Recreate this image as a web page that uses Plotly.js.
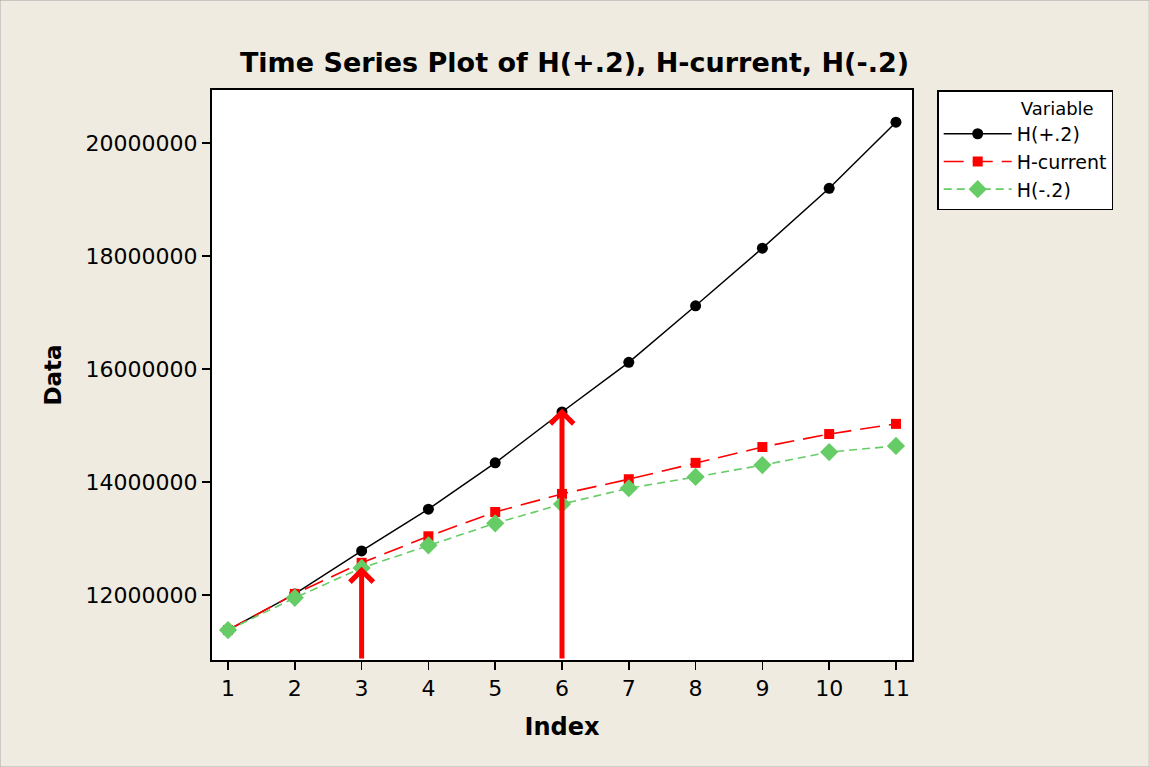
<!DOCTYPE html>
<html>
<head>
<meta charset="utf-8">
<script src="https://cdn.plot.ly/plotly-3.0.1.min.js"></script>
<style>html,body{margin:0;padding:0;background:#EFEBE1;}</style>
</head>
<body>
<div id="chart" style="width:1149px;height:767px;"></div>
<script>
const indexVals = [1, 2, 3, 4, 5, 6, 7, 8, 9, 10, 11];
const hPlus = [11380000, 12020000, 12780000, 13520000, 14340000, 15240000, 16120000, 17120000, 18140000, 19200000, 20370000];
const hCurrent = [11380000, 12020000, 12570000, 13040000, 13470000, 13790000, 14050000, 14340000, 14620000, 14850000, 15030000];
const hMinus = [11380000, 11950000, 12480000, 12880000, 13270000, 13610000, 13890000, 14090000, 14300000, 14530000, 14640000];
const yTicks = [12000000, 14000000, 16000000, 18000000, 20000000];
const arrowIndex = [3, 6];
const arrowTop = [12500000, 15300000];

const yRange = [10850000, 20940000];
const font = 'DejaVu Sans, Verdana, sans-serif';

const traces = [
  {x: indexVals, y: hPlus, name: 'H(+.2)', mode: 'lines+markers',
   line: {color: '#000000', width: 1.5},
   marker: {symbol: 'circle', size: 11, color: '#000000'}},
  {x: indexVals, y: hCurrent, name: 'H-current', mode: 'lines+markers',
   line: {color: '#FF0000', width: 1.6, dash: '20px,9px'},
   marker: {symbol: 'square', size: 10, color: '#FF0000'}},
  {x: indexVals, y: hMinus, name: 'H(-.2)', mode: 'lines+markers',
   line: {color: '#66CC66', width: 1.6, dash: '8px,5px'},
   marker: {symbol: 'diamond', size: 14, color: '#66CC66'}}
];

const annotations = arrowIndex.map((xi, i) => ({
  x: xi, y: arrowTop[i], xref: 'x', yref: 'y',
  ax: xi, ay: yRange[0], axref: 'x', ayref: 'y',
  showarrow: true, arrowhead: 4, arrowsize: 0.9, arrowwidth: 5,
  arrowcolor: '#FF0000', text: ''
}));

const layout = {
  width: 1149, height: 767,
  paper_bgcolor: '#EFEBE1', plot_bgcolor: '#FFFFFF',
  margin: {l: 212, r: 237, t: 90, b: 107},
  font: {family: font, color: '#000000', size: 22},
  title: {text: '<b>Time Series Plot of H(+.2), H-current, H(-.2)</b>',
          font: {family: font, size: 27, color: '#000000'},
          x: 0.5, xanchor: 'center', y: 0.918, yanchor: 'middle'},
  xaxis: {range: [0.76, 11.24], tickvals: indexVals, ticks: 'outside', ticklen: 8,
          tickwidth: 1.5, tickcolor: '#000', showgrid: false, zeroline: false,
          showline: true, linecolor: '#000', linewidth: 2, mirror: true,
          tickfont: {family: font, size: 22},
          title: {text: '<b>Index</b>', font: {family: font, size: 24}, standoff: 18}},
  yaxis: {range: yRange, tickvals: yTicks, ticktext: yTicks.map(v => String(v)),
          ticks: 'outside', ticklen: 8, tickwidth: 1.5, tickcolor: '#000',
          showgrid: false, zeroline: false, showline: true, linecolor: '#000',
          linewidth: 2, mirror: true, tickfont: {family: font, size: 22},
          title: {text: '<b>Data</b>', font: {family: font, size: 23}, standoff: 18}},
  legend: {x: 1.036, xanchor: 'left', y: 1, yanchor: 'top',
           bgcolor: '#FFFFFF', bordercolor: '#000000', borderwidth: 1.5,
           font: {family: font, size: 19}, itemwidth: 68,
           title: {text: '              Variable', font: {family: font, size: 18}},
           tracegroupgap: 0},
  shapes: [{type: 'rect', xref: 'paper', yref: 'paper', x0: -0.303, x1: 1.339, y0: -0.188, y1: 1.158,
            line: {color: '#9A9A9A', width: 1}}],
  annotations: annotations,
  showlegend: true
};

Plotly.newPlot('chart', traces, layout, {displayModeBar: false, staticPlot: true});
</script>
</body>
</html>
